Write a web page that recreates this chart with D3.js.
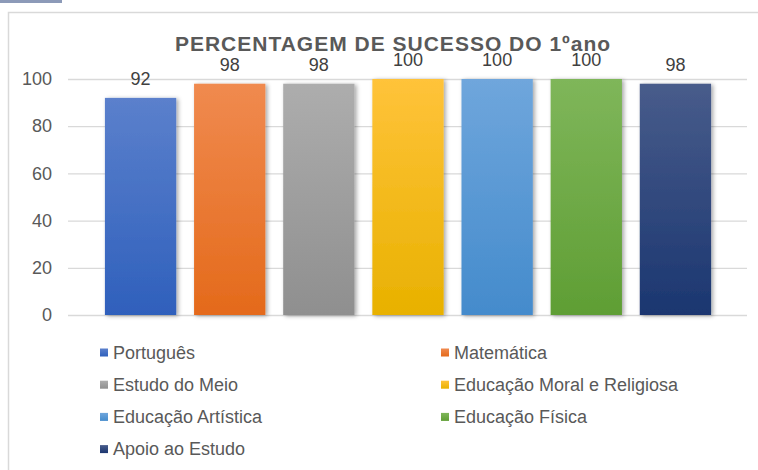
<!DOCTYPE html>
<html lang="pt">
<head>
<meta charset="UTF-8">
<script src="https://d3js.org/d3.v7.min.js"></script>
<style>
  body { margin: 0; background: #fff; }
  svg text { font-family: "Liberation Sans", Arial, sans-serif; }
</style>
</head>
<body>
<div id="chart"></div>
<script>
// data
const subjects = ["Português", "Matemática", "Estudo do Meio", "Educação Moral e Religiosa",
                  "Educação Artística", "Educação Física", "Apoio ao Estudo"];
const values = [92, 98, 98, 100, 100, 100, 98];
const topColors = ["#5b80cc", "#f08a4f", "#adadad", "#ffc33a", "#6fa6dc", "#7fb65a", "#485c8b"];
const bottomColors = ["#2f60bc", "#e46a1b", "#8f8f8f", "#e8b100", "#448bcc", "#5f9e34", "#1b3670"];
const yTicks = [0, 20, 40, 60, 80, 100];
const title = "PERCENTAGEM DE SUCESSO DO 1ºano";

const width = 758, height = 470;

const svg = d3.select("#chart").append("svg")
    .attr("width", width)
    .attr("height", height);

const defs = svg.append("defs");

// gradients per bar
subjects.forEach((s, i) => {
  const grad = defs.append("linearGradient")
      .attr("id", "grad" + i)
      .attr("x1", 0).attr("y1", 0).attr("x2", 0).attr("y2", 1);
  grad.append("stop").attr("offset", "0%").attr("stop-color", topColors[i]);
  grad.append("stop").attr("offset", "100%").attr("stop-color", bottomColors[i]);
});

const shadow = defs.append("filter")
    .attr("id", "shadow")
    .attr("x", "-20%").attr("y", "-20%").attr("width", "140%").attr("height", "140%");
shadow.append("feDropShadow")
    .attr("dx", 2).attr("dy", 1)
    .attr("stdDeviation", 2)
    .attr("flood-color", "#000")
    .attr("flood-opacity", 0.35);

// frame bits
svg.append("rect")
    .attr("x", 0).attr("y", 0).attr("width", 62).attr("height", 3)
    .attr("fill", "#8c9ab8");
svg.append("path")
    .attr("d", `M8.5,${height} V12.5 H${width}`)
    .attr("fill", "none")
    .attr("stroke", "#d9d9d9")
    .attr("stroke-width", 1.5);

// scales
const x = d3.scaleBand()
    .domain(subjects)
    .range([96, 720])
    .paddingInner(0.2)
    .paddingOuter(0.1);

const y = d3.scaleLinear()
    .domain([0, 100])
    .range([315, 79]);

// y axis + grid
const yAxis = svg.append("g")
    .attr("transform", "translate(68,0)")
    .call(d3.axisLeft(y).tickValues(yTicks).tickSize(-679).tickPadding(16))
    .call(g => g.select(".domain").remove());
yAxis.selectAll(".tick line")
    .attr("stroke", "#d9d9d9")
    .attr("stroke-width", 1.3);
yAxis.selectAll(".tick text")
    .attr("fill", "#595959")
    .style("font-size", "18px")
    .style("font-family", "'Liberation Sans', Arial, sans-serif");

// title
svg.append("text")
    .attr("x", 393)
    .attr("y", 51)
    .attr("text-anchor", "middle")
    .attr("fill", "#595959")
    .style("font-size", "21px")
    .style("font-weight", "bold")
    .style("letter-spacing", "1px")
    .text(title);

// bars
svg.append("g").selectAll("rect")
  .data(values)
  .join("rect")
    .attr("x", (d, i) => x(subjects[i]))
    .attr("y", d => y(d))
    .attr("width", x.bandwidth())
    .attr("height", d => y(0) - y(d))
    .attr("fill", (d, i) => `url(#grad${i})`)
    .attr("filter", "url(#shadow)");

// value labels
svg.append("g").selectAll("text")
  .data(values)
  .join("text")
    .attr("x", (d, i) => x(subjects[i]) + x.bandwidth() / 2)
    .attr("y", d => y(d) - 13)
    .attr("text-anchor", "middle")
    .attr("fill", "#404040")
    .style("font-size", "18px")
    .text(d => d);

// legend, two columns
const legendX = [100, 441];
const legendY0 = 352.5, legendStep = 32.2;
const legend = svg.append("g").selectAll("g")
  .data(subjects)
  .join("g")
    .attr("transform", (d, i) => `translate(${legendX[i % 2]},${legendY0 + Math.floor(i / 2) * legendStep})`);
legend.append("rect")
    .attr("x", 0).attr("y", -4)
    .attr("width", 8).attr("height", 8)
    .attr("fill", (d, i) => `url(#grad${i})`);
legend.append("text")
    .attr("x", 13)
    .attr("y", 0)
    .attr("dy", "0.35em")
    .attr("fill", "#595959")
    .style("font-size", "18px")
    .text(d => d);
</script>
</body>
</html>
